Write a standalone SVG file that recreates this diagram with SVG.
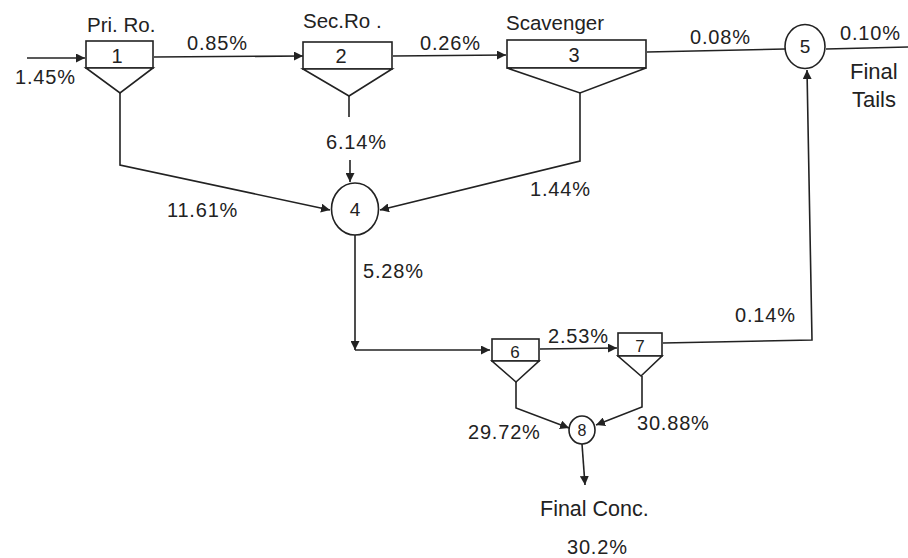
<svg xmlns="http://www.w3.org/2000/svg" width="908" height="558" viewBox="0 0 908 558">
  <style>
    .ln { fill: none; stroke: #222; stroke-width: 1.6; }
    .shape { fill: #fff; stroke: #222; stroke-width: 1.6; }
    .lbl { font-family: "Liberation Sans", Arial, sans-serif; font-size: 20px; fill: #222; letter-spacing: 0.8px; }
    .hdr { font-family: "Liberation Sans", Arial, sans-serif; font-size: 20.5px; fill: #222; }
    .num { font-family: "Liberation Sans", Arial, sans-serif; font-size: 20px; fill: #222; text-anchor: middle; }
  </style>
  <defs>
    <marker id="arr" viewBox="0 0 10 10" refX="10" refY="5" markerWidth="9" markerHeight="9" markerUnits="userSpaceOnUse" orient="auto">
      <path d="M0,0 L10,5 L0,10 z" fill="#222"/>
    </marker>
  </defs>

  <!-- connectors -->
  <g id="connectors">
    <path class="ln" d="M27,58 H85" marker-end="url(#arr)"/>
    <path class="ln" d="M154,57 L303,56" marker-end="url(#arr)"/>
    <path class="ln" d="M393,56 L506,55" marker-end="url(#arr)"/>
    <path class="ln" d="M647,52 L785,49"/>
    <path class="ln" d="M826,49 L908,47"/>
    <path class="ln" d="M120,93 V165 L330,210" marker-end="url(#arr)"/>
    <path class="ln" d="M349,96 V117"/>
    <path class="ln" d="M350,160 V182" marker-end="url(#arr)"/>
    <path class="ln" d="M580,93 V161 L380,210" marker-end="url(#arr)"/>
    <path class="ln" d="M355,235 V350" marker-end="url(#arr)"/>
    <path class="ln" d="M355,350 H490" marker-end="url(#arr)"/>
    <path class="ln" d="M540,349 L617,348" marker-end="url(#arr)"/>
    <path class="ln" d="M663,343 L812,340 L807,70" marker-end="url(#arr)"/>
    <path class="ln" d="M516,382 V408 L569,428" marker-end="url(#arr)"/>
    <path class="ln" d="M642,376 V407 L596,425" marker-end="url(#arr)"/>
    <path class="ln" d="M582,444 L585,485" marker-end="url(#arr)"/>
  </g>

  <!-- stream labels -->
  <g id="labels">
    <text class="lbl" x="15" y="84">1.45%</text>
    <text class="lbl" x="187" y="50">0.85%</text>
    <text class="lbl" x="420" y="50">0.26%</text>
    <text class="lbl" x="690" y="44">0.08%</text>
    <text class="lbl" x="840" y="40">0.10%</text>
    <text class="hdr" x="850" y="79" style="font-size:22px">Final</text>
    <text class="hdr" x="852" y="107" style="font-size:22px">Tails</text>
    <text class="lbl" x="326" y="149">6.14%</text>
    <text class="lbl" x="167" y="217">11.61%</text>
    <text class="lbl" x="530" y="196">1.44%</text>
    <text class="lbl" x="363" y="278">5.28%</text>
    <text class="lbl" x="735" y="322">0.14%</text>
    <text class="lbl" x="548" y="343">2.53%</text>
    <text class="lbl" x="468" y="439">29.72%</text>
    <text class="lbl" x="637" y="430">30.88%</text>
    <text class="hdr" x="540" y="516" style="font-size:21.5px">Final Conc.</text>
    <text class="lbl" x="567" y="554">30.2%</text>
  </g>

  <!-- cell 1: primary rougher -->
  <g id="cell1">
    <text class="hdr" x="87" y="32">Pri. Ro.</text>
    <rect class="shape" x="86" y="41" width="67" height="27"/>
    <path class="shape" d="M86,68 L153,68 L120,93 z"/>
    <text class="num" x="117" y="63">1</text>
  </g>

  <!-- cell 2: secondary rougher -->
  <g id="cell2">
    <text class="hdr" x="303" y="28">Sec.Ro .</text>
    <rect class="shape" x="303" y="42" width="89" height="27"/>
    <path class="shape" d="M303,69 L392,69 L349,96 z"/>
    <text class="num" x="341" y="63">2</text>
  </g>

  <!-- cell 3: scavenger -->
  <g id="cell3">
    <text class="hdr" x="506" y="30">Scavenger</text>
    <rect class="shape" x="507" y="40" width="139" height="28"/>
    <path class="shape" d="M507,68 L646,68 L580,93 z"/>
    <text class="num" x="574" y="62">3</text>
  </g>

  <!-- junction 4 -->
  <g id="node4">
    <ellipse class="shape" cx="355" cy="209" rx="23.5" ry="26"/>
    <text class="num" x="355" y="216" style="font-size:19px">4</text>
  </g>

  <!-- junction 5 -->
  <g id="node5">
    <ellipse class="shape" cx="805" cy="46.5" rx="20" ry="22"/>
    <text class="num" x="805" y="53" style="font-size:19px">5</text>
  </g>

  <!-- cell 6 -->
  <g id="cell6">
    <rect class="shape" x="492" y="339" width="47" height="22"/>
    <path class="shape" d="M492,361 L539,361 L516,382 z"/>
    <text class="num" x="515" y="358" style="font-size:17px">6</text>
  </g>

  <!-- cell 7 -->
  <g id="cell7">
    <rect class="shape" x="618" y="333" width="44" height="23"/>
    <path class="shape" d="M618,356 L662,356 L641,376 z"/>
    <text class="num" x="640" y="352" style="font-size:17px">7</text>
  </g>

  <!-- junction 8 -->
  <g id="node8">
    <ellipse class="shape" cx="582" cy="430" rx="13" ry="14"/>
    <text class="num" x="582" y="436" style="font-size:16px">8</text>
  </g>
</svg>
